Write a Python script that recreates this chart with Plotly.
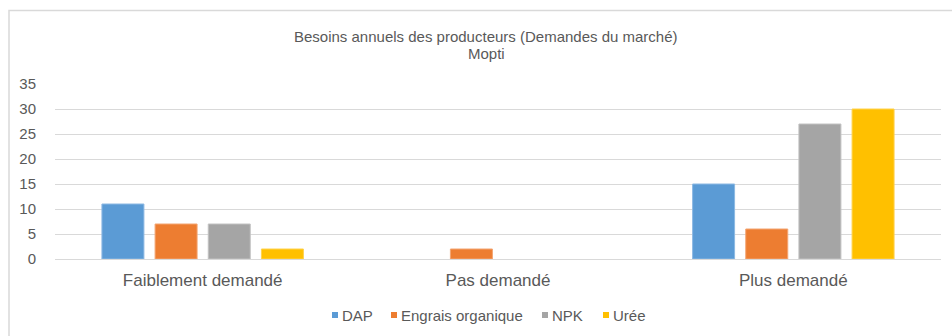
import plotly.graph_objects as go

# Fertiliser demand by category, Mopti
categories = ["Faiblement demandé", "Pas demandé", "Plus demandé"]
series_names = ["DAP", "Engrais organique", "NPK", "Urée"]
dap = [11, 0, 15]
engrais_organique = [7, 2, 6]
npk = [7, 0, 27]
uree = [2, 0, 30]
y_ticks = [0, 5, 10, 15, 20, 25, 30, 35]

series_values = [dap, engrais_organique, npk, uree]
colors = ["#5B9BD5", "#ED7D31", "#A5A5A5", "#FFC000"]
edge_colors = ["#8DB9E3", "#F3A572", "#C2C2C2", "#FFD24D"]

text_color = "#595959"
grid_color = "#D9D9D9"
font_family = "Liberation Sans, Arial, sans-serif"

W, H = 952, 336
L, R, T, B = 55, 11, 84, 77
pw, ph = W - L - R, H - T - B


def px_x(px):
    """Page pixel column -> paper x."""
    return (px - L) / pw


def px_y(py):
    """Page pixel row -> paper y."""
    return (H - B - py) / ph


fig = go.Figure()
for name, vals, c, ec in zip(series_names, series_values, colors, edge_colors):
    fig.add_trace(go.Bar(
        x=categories, y=vals, name=name, showlegend=False,
        marker=dict(color=c, line=dict(color=ec, width=[1 if v > 0 else 0 for v in vals])),
    ))

# outer chart frame (only the top and left edges fall inside the page)
fig.add_shape(type="rect", xref="paper", yref="paper",
              x0=px_x(9), x1=1.5, y0=-1.0, y1=px_y(10.5),
              line=dict(color=grid_color, width=1.5), layer="below")

title_cx = px_x(486)
annotations = [
    dict(text="Besoins annuels des producteurs (Demandes du marché)",
         x=title_cx, xref="paper", xanchor="center", y=px_y(36), yref="paper", yanchor="middle",
         showarrow=False, font=dict(size=15, color=text_color, family=font_family)),
    dict(text="Mopti",
         x=title_cx, xref="paper", xanchor="center", y=px_y(53), yref="paper", yanchor="middle",
         showarrow=False, font=dict(size=15, color=text_color, family=font_family)),
]

# legend: small colour squares followed by series names
legend_square_x = [332, 391, 542, 603]
legend_row_y = 315
for name, c, sx in zip(series_names, colors, legend_square_x):
    fig.add_shape(type="rect", xref="paper", yref="paper",
                  x0=px_x(sx), x1=px_x(sx + 6), y0=px_y(legend_row_y + 3), y1=px_y(legend_row_y - 3),
                  line=dict(width=0), fillcolor=c)
    annotations.append(dict(
        text=name, x=px_x(sx + 8), xref="paper", xanchor="left",
        y=px_y(legend_row_y), yref="paper", yanchor="middle",
        showarrow=False, font=dict(size=15, color=text_color, family=font_family)))

fig.update_layout(
    width=W, height=H,
    margin=dict(l=L, r=R, t=T, b=B, autoexpand=False),
    paper_bgcolor="white", plot_bgcolor="white",
    barmode="group", bargap=0.28, bargroupgap=0.21,
    font=dict(family=font_family, color=text_color),
    xaxis=dict(
        showgrid=False, showline=True, linecolor=grid_color, linewidth=1,
        ticks="", tickfont=dict(size=17, color=text_color),
        ticklabelstandoff=6, automargin=False,
    ),
    yaxis=dict(
        range=[0, 35], tickvals=y_ticks, showgrid=True,
        gridcolor=grid_color, gridwidth=1, zeroline=False,
        showline=False, ticks="", tickfont=dict(size=15, color=text_color),
        ticklabelstandoff=18, automargin=False,
    ),
    annotations=annotations,
    showlegend=False,
)

fig.write_html("out.html")
